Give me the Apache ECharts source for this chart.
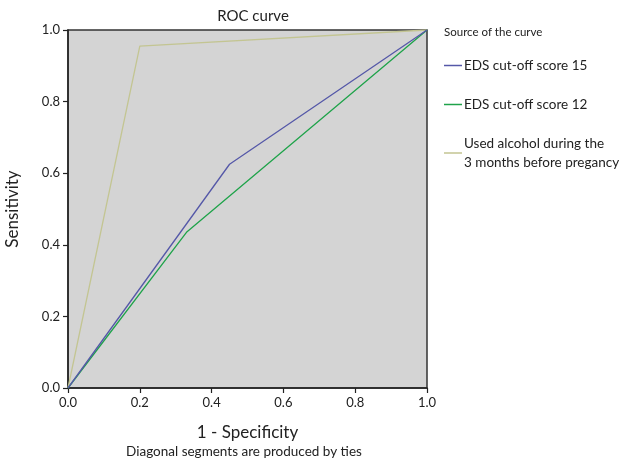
<!DOCTYPE html>
<html>
<head>
<meta charset="UTF-8">
<title>ROC curve</title>
<script src="https://cdn.jsdelivr.net/npm/echarts@6/dist/echarts.min.js"></script>
<style>
  html, body { margin: 0; padding: 0; background: #fff; }
  #chart { width: 640px; height: 461px; }
</style>
</head>
<body>
<div id="chart"></div>
<script>
// data
var seriesNames = ['EDS cut-off score 15', 'EDS cut-off score 12', 'Used alcohol during the\n3 months before pregancy'];
var seriesColors = ['#5558a8', '#1fa34a', '#c3c592'];
var fpr15 = [0, 0.45, 1];
var tpr15 = [0, 0.625, 1];
var fpr12 = [0, 0.33, 1];
var tpr12 = [0, 0.435, 1];
var fprAlc = [0, 0.2, 1];
var tprAlc = [0, 0.955, 1];

var fontFam = 'Lato';

function pairs(xs, ys) {
    var out = [];
    for (var i = 0; i < xs.length; i++) out.push([xs[i], ys[i]]);
    return out;
}

var curves = [pairs(fpr15, tpr15), pairs(fpr12, tpr12), pairs(fprAlc, tprAlc)];

var chart = echarts.init(document.getElementById('chart'));

var axisCommon = {
    type: 'value',
    min: 0,
    max: 1,
    interval: 0.2,
    axisLine: { show: true, lineStyle: { color: '#222', width: 1.5 } },
    axisTick: { show: true, length: 5, lineStyle: { color: '#222', width: 1.2 } },
    axisLabel: {
        color: '#222', fontSize: 13, fontFamily: fontFam,
        formatter: function (v) { return v.toFixed(1); }
    },
    splitLine: { show: false },
    nameLocation: 'middle',
    nameTextStyle: { color: '#222', fontSize: 17, fontFamily: fontFam }
};

var option = {
    animation: false,
    title: [
        {
            text: 'ROC curve', left: 248, top: 4, textAlign: 'center',
            textStyle: { color: '#222', fontSize: 15, fontWeight: 'normal', fontFamily: fontFam }
        },
        {
            text: 'Source of the curve', left: 439, top: 21,
            textStyle: { color: '#222', fontSize: 11.5, fontWeight: 'normal', fontFamily: fontFam }
        },
        {
            text: 'Diagonal segments are produced by ties', left: 239, top: 440, textAlign: 'center',
            textStyle: { color: '#222', fontSize: 13.5, fontWeight: 'normal', fontFamily: fontFam }
        }
    ],
    grid: {
        left: 68, right: 213, top: 30, bottom: 73,
        outerBoundsMode: 'none', containLabel: false,
        show: true, backgroundColor: '#d4d4d4', borderColor: '#333', borderWidth: 1.5
    },
    legend: {
        orient: 'vertical',
        left: 439,
        top: 51,
        itemWidth: 18,
        itemHeight: 1.5,
        itemGap: 20,
        icon: 'rect',
        data: seriesNames,
        textStyle: { color: '#222', fontSize: 13.5, lineHeight: 19, fontFamily: fontFam, padding: [0, 0, 0, -3] }
    },
    xAxis: Object.assign({}, axisCommon, { name: '1 - Specificity', nameGap: 36 }),
    yAxis: Object.assign({}, axisCommon, { name: 'Sensitivity', nameGap: 47 }),
    series: [2, 1, 0].map(function (i) {
        return {
            name: seriesNames[i],
            type: 'line',
            data: curves[i],
            symbol: 'none',
            color: seriesColors[i],
            lineStyle: { width: 1.3, color: seriesColors[i] }
        };
    })
};

chart.setOption(option);
</script>
</body>
</html>
